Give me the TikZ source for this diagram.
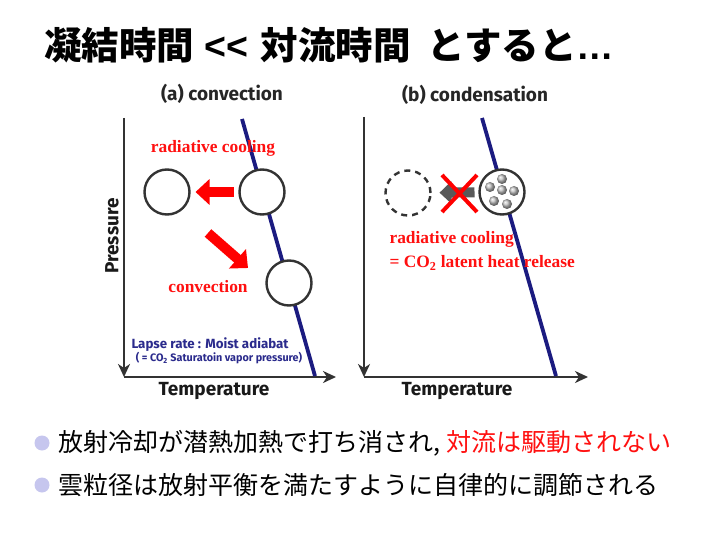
\documentclass[tikz,border=0pt]{standalone}
\usepackage{fontspec}
\setmainfont{Liberation Serif}
\newfontfamily\cjk{Noto Sans CJK JP}
\newfontfamily\hsans{Fira Sans}
\newfontfamily\lsans{Liberation Sans}
\usetikzlibrary{arrows.meta}
\definecolor{navyline}{HTML}{1B1B80}
\definecolor{navytext}{HTML}{2A2A8C}
\definecolor{axisgray}{HTML}{333333}
\definecolor{redtxt}{HTML}{FF1010}
\definecolor{bulletcol}{HTML}{C6C6EE}
\tikzset{
  axisline/.style={draw=axisgray, line width=2.2pt, -{Stealth[length=13pt,width=12pt,inset=4pt]}},
  satline/.style={draw=navyline, line width=3.8pt},
  bubble/.style={circle, draw=axisgray, fill=white, line width=2.4pt, minimum size=45pt, inner sep=0pt, outer sep=0pt},
  ghost/.style={bubble, dash pattern=on 6pt off 5pt},
  redarrow/.style={draw=red, line width=10pt, -{Triangle[length=14pt,width=25pt]}},
  grayarrow/.style={draw=black!65, line width=10pt, -{Triangle[length=12pt,width=22pt]}},
  crossline/.style={draw=red, line width=4pt},
  dropl/.style={circle, shading=ball, ball color=black!25, minimum size=10pt, inner sep=0pt},
  paneltitle/.style={font=\hsans\bfseries\fontsize{19}{22}\selectfont, text=black!85},
  axislabel/.style={font=\hsans\bfseries\fontsize{19}{22}\selectfont, text=black!90},
  redlabel/.style={font=\bfseries\fontsize{17.4}{20}\selectfont, text=redtxt},
  navylabel/.style={font=\hsans\bfseries\fontsize{13.3}{16}\selectfont, text=navytext},
  navysmall/.style={font=\hsans\bfseries\fontsize{10.8}{12}\selectfont, text=navytext},
  bulletdot/.style={circle, fill=bulletcol, minimum size=15pt, inner sep=0pt},
  bullettext/.style={anchor=west, font=\cjk\fontsize{25}{28}\selectfont, inner sep=0pt},
}
\begin{document}
\begin{tikzpicture}[x=1pt,y=-1pt]
\useasboundingbox (0,0) rectangle (720,540);
\fill[white] (0,0) rectangle (720,540);

% title
\node[anchor=west, inner sep=0pt, font=\cjk\bfseries\fontsize{37.5}{40}\selectfont] (title) at (44,45)
  {凝結時間\hspace{10pt}{\lsans\bfseries <<}\hspace{13pt}対流時間\hspace{17pt}とすると{\lsans\bfseries …}};

% ---------- panel (a) ----------
\node[paneltitle] (ta) at (222,94) {(a) convection};
\coordinate (aTop) at (124,118);
\coordinate (aO) at (124,377);
\coordinate (aRight) at (336,377);
\draw[axisline] (aTop) -- (aO);
\draw[axisline] (aO) -- (aRight);
\node[axislabel, rotate=90] (pa) at (112,236) {Pressure};
\node[axislabel] (tea) at (214,391) {Temperature};
\coordinate (aS1) at (242,119);
\coordinate (aS2) at (315,376);
\draw[satline] (aS1) -- (aS2);

\node[bubble] (c1) at (167,192) {};
\node[bubble] (c2) at (262,192) {};
\node[bubble] (c3) at (289,283) {};
\draw[redarrow, shorten <=6pt, shorten >=6pt] (c2) -- (c1);
\coordinate (dA) at (208,233);
\coordinate (dB) at (248,268);
\draw[redarrow] (dA) -- (dB);
\node[redlabel] (rca) at (213,148) {radiative cooling};
\node[redlabel] (cva) at (208,287) {convection};
\node[navylabel, anchor=west] (lr) at (128,345) {Lapse rate : Moist adiabat};
\node[navysmall] (lr2) at (219,358) {( = CO\textsubscript{2} Saturatoin vapor pressure)};

% ---------- panel (b) ----------
\node[paneltitle] (tb) at (475,95) {(b) condensation};
\coordinate (bTop) at (364,117);
\coordinate (bO) at (364,377);
\coordinate (bRight) at (588,377);
\draw[axisline] (bTop) -- (bO);
\draw[axisline] (bO) -- (bRight);
\node[axislabel] (teb) at (457,391) {Temperature};
\coordinate (bS1) at (482,118);
\coordinate (bS2) at (556,376);
\draw[satline] (bS1) -- (bS2);

\node[ghost] (g1) at (408,193) {};
\node[bubble] (g2) at (502,192) {};
\draw[grayarrow, shorten <=5pt, shorten >=9pt] (g2) -- (g1);
\coordinate (x1) at (442,175);
\coordinate (x2) at (477,212);
\coordinate (x3) at (442,212);
\coordinate (x4) at (477,175);
\draw[crossline] (x1) -- (x2);
\draw[crossline] (x3) -- (x4);
\node[dropl] (d1) at (502,179) {};
\node[dropl] (d2) at (490,187) {};
\node[dropl] (d3) at (502,190) {};
\node[dropl] (d4) at (514,191) {};
\node[dropl] (d5) at (494,201) {};
\node[dropl] (d6) at (507,204) {};
\node[redlabel, anchor=west] (rcb) at (386,239) {radiative cooling};
\node[redlabel, anchor=west] (lhb) at (386,263) {= CO\textsubscript{2} latent heat release};

% ---------- bullets ----------
\node[bulletdot] (b1) at (42,443) {};
\node[bulletdot] (b2) at (42,485) {};
\node[bullettext] (l1) at (58,443) {放射冷却が潜熱加熱で打ち消され,\hspace{6pt}\textcolor{redtxt}{対流は駆動されない}};
\node[bullettext] (l2) at (58,485) {雲粒径は放射平衡を満たすように自律的に調節される};
\end{tikzpicture}
\end{document}
